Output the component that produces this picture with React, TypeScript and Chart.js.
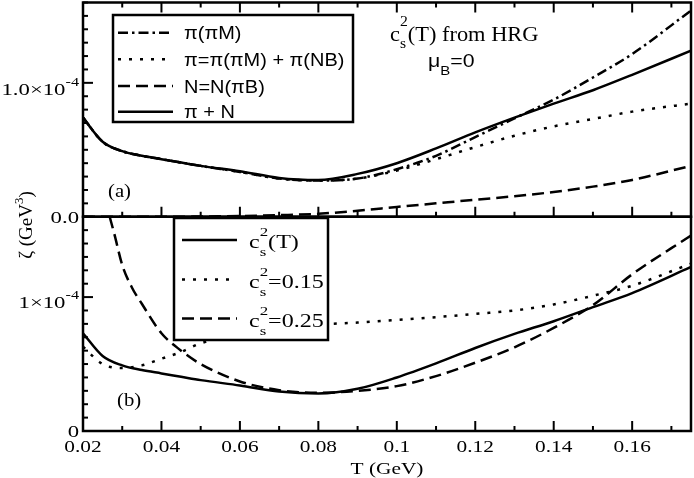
import { useEffect, useRef } from 'react'
import { Chart, registerables } from 'chart.js'

Chart.register(...registerables)

// T grid in GeV
const temps = [0.02, 0.025, 0.03, 0.035, 0.04, 0.045, 0.05, 0.06, 0.07, 0.08, 0.09, 0.1, 0.11, 0.12, 0.13, 0.14, 0.15, 0.16, 0.175]

// panel (a), zeta in units of 1e-4 GeV^3
const zetaPiPiM = [0.74, 0.56, 0.49, 0.455, 0.43, 0.405, 0.38, 0.335, 0.285, 0.27, 0.285, 0.355, 0.455, 0.595, 0.735, 0.875, 1.04, 1.215, 1.54]
const zetaPi = [0.74, 0.56, 0.49, 0.455, 0.43, 0.405, 0.38, 0.335, 0.285, 0.27, 0.285, 0.345, 0.43, 0.52, 0.605, 0.675, 0.73, 0.785, 0.845]
const zetaN = [0, 0, 0, 0, 0, 0, 0.002, 0.005, 0.012, 0.022, 0.045, 0.073, 0.1, 0.127, 0.153, 0.185, 0.225, 0.275, 0.38]
const zetaPiN = [0.74, 0.56, 0.49, 0.455, 0.43, 0.405, 0.38, 0.34, 0.29, 0.275, 0.32, 0.4, 0.51, 0.63, 0.74, 0.845, 0.945, 1.06, 1.24]

// panel (b)
const zetaCsT = [0.73, 0.56, 0.49, 0.455, 0.43, 0.405, 0.38, 0.34, 0.295, 0.28, 0.315, 0.4, 0.505, 0.62, 0.725, 0.82, 0.925, 1.03, 1.225]
const zetaCs015 = [0.63, 0.5, 0.47, 0.49, 0.54, 0.59, 0.655, 0.72, 0.765, 0.795, 0.81, 0.83, 0.85, 0.875, 0.9, 0.945, 1.01, 1.085, 1.25]
const tempsCs025 = [0.0268, 0.028, 0.03, 0.0325, 0.035, 0.04, 0.045, 0.05, 0.06, 0.07, 0.08, 0.09, 0.1, 0.11, 0.12, 0.13, 0.14, 0.15, 0.16, 0.175]
const zetaCs025 = [1.6, 1.47, 1.24, 1.07, 0.95, 0.73, 0.6, 0.5, 0.37, 0.305, 0.285, 0.3, 0.335, 0.41, 0.51, 0.625, 0.77, 0.94, 1.17, 1.46]

const legendA = ['π(πM)', 'π=π(πM) + π(NB)', 'N=N(πB)', 'π + N']
const legendB = ['(T)', '=0.15', '=0.25']

const SERIF = "'Liberation Serif', 'Times New Roman', 'DejaVu Serif', serif"
const SANS = "'Liberation Sans', Arial, sans-serif"
const DASHDOT = [10, 4, 2.5, 4]
const DOT = [3, 8]
const DASH = [12, 6]
const SOLID: number[] = []

type Run = { t: string; size: number; dy?: number; stack?: boolean }

function drawRuns(ctx: CanvasRenderingContext2D, x: number, y: number, runs: Run[], family: string, sx: number, align: 'left' | 'center' | 'right' = 'left') {
  ctx.save()
  const placed: (Run & { x: number })[] = []
  let cx = 0, prevStart = 0, prevEnd = 0
  for (const r of runs) {
    ctx.font = `${r.size}px ${family}`
    const w = ctx.measureText(r.t).width
    const start = r.stack ? prevStart : cx
    placed.push({ ...r, x: start })
    cx = r.stack ? Math.max(prevEnd, start + w) : start + w
    prevStart = start
    prevEnd = cx
  }
  const off = align === 'right' ? -cx : align === 'center' ? -cx / 2 : 0
  ctx.translate(x, y)
  ctx.scale(sx, 1)
  ctx.fillStyle = '#000'
  ctx.textAlign = 'left'
  ctx.textBaseline = 'alphabetic'
  for (const p of placed) {
    ctx.font = `${p.size}px ${family}`
    ctx.fillText(p.t, off + p.x, p.dy ?? 0)
  }
  ctx.restore()
}

function line(xs: number[], ys: number[], yAxisID: string, dash: number[]) {
  return {
    data: xs.map((x, i) => ({ x, y: ys[i] })),
    yAxisID,
    borderColor: '#000',
    borderWidth: 2.5,
    borderDash: dash,
    borderCapStyle: 'butt' as const,
    pointRadius: 0,
    cubicInterpolationMode: 'monotone' as const,
    fill: false,
  }
}

const decor = {
  id: 'decor',
  afterDatasetsDraw(chart: any) {
    const ctx: CanvasRenderingContext2D = chart.ctx
    const xs = chart.scales.x
    const yt = chart.scales.yTop
    const yb = chart.scales.yBot
    const L = chart.chartArea.left
    const R = chart.chartArea.right
    ctx.save()
    ctx.strokeStyle = '#000'
    ctx.setLineDash([])

    // frames
    ctx.lineWidth = 2.5
    ctx.strokeRect(L, yt.top, R - L, yt.bottom - yt.top)
    ctx.strokeRect(L, yb.top, R - L, yb.bottom - yb.top)

    // inward ticks
    ctx.lineWidth = 2
    const seg = (x1: number, y1: number, x2: number, y2: number) => {
      ctx.beginPath(); ctx.moveTo(x1, y1); ctx.lineTo(x2, y2); ctx.stroke()
    }
    for (const t of xs.ticks) {
      const px = xs.getPixelForValue(t.value)
      const len = Math.round(t.value * 100) % 2 === 0 ? 10 : 5
      seg(px, yb.bottom, px, yb.bottom - len)
      seg(px, yt.bottom, px, yt.bottom - len)
      seg(px, yt.top, px, yt.top + len)
    }
    for (const sc of [yt, yb]) {
      for (const t of sc.ticks) {
        const py = sc.getPixelForValue(t.value)
        const major = t.value === 0 || Math.abs(t.value - 1) < 1e-6
        seg(L, py, L + (major ? 10 : 5), py)
      }
    }

    // y tick labels
    drawRuns(ctx, 79, yt.getPixelForValue(0) + 6.5, [{ t: '0.0', size: 17.5 }], SERIF, 1.3, 'right')
    drawRuns(ctx, 79, yt.getPixelForValue(1) + 12.5, [{ t: '1.0×10', size: 17.5 }, { t: '-4', size: 12.5, dy: -9.5 }], SERIF, 1.3, 'right')
    drawRuns(ctx, 79, yb.getPixelForValue(0) + 6, [{ t: '0', size: 17.5 }], SERIF, 1.3, 'right')
    drawRuns(ctx, 79, yb.getPixelForValue(1) + 11, [{ t: '1×10', size: 17.5 }, { t: '-4', size: 12.5, dy: -9.5 }], SERIF, 1.3, 'right')

    // x tick labels and title
    for (const t of xs.ticks) {
      if (Math.round(t.value * 100) % 2 !== 0) continue
      const label = String(Math.round(t.value * 100) / 100)
      drawRuns(ctx, xs.getPixelForValue(t.value), yb.bottom + 20.5, [{ t: label, size: 17.5 }], SERIF, 1.22, 'center')
    }
    drawRuns(ctx, (L + R) / 2, yb.bottom + 43, [{ t: 'T (GeV)', size: 17.5 }], SERIF, 1.22, 'center')

    // y title
    ctx.save()
    ctx.translate(32, 225)
    ctx.rotate(-Math.PI / 2)
    drawRuns(ctx, 0, 0, [{ t: 'ζ (GeV', size: 19 }, { t: '3', size: 13, dy: -9 }, { t: ')', size: 19 }], SERIF, 1, 'center')
    ctx.restore()

    // legend (a)
    const dsets = chart.data.datasets
    ctx.fillStyle = '#fff'
    ctx.lineWidth = 2.5
    ctx.fillRect(113, 15, 240, 107)
    ctx.strokeRect(113, 15, 240, 107)
    const rowsA = [32.7, 59.3, 86, 111.7]
    legendA.forEach((txt, i) => {
      const ds = dsets[i]
      ctx.lineWidth = ds.borderWidth
      ctx.setLineDash(ds.borderDash)
      seg(118, rowsA[i], 173, rowsA[i])
      ctx.setLineDash([])
      drawRuns(ctx, 184, rowsA[i] + 6.5, [{ t: txt, size: 17.5 }], SANS, 1.14)
    })

    // legend (b)
    ctx.fillStyle = '#fff'
    ctx.lineWidth = 2.5
    ctx.fillRect(174, 218, 154, 122)
    ctx.strokeRect(174, 218, 154, 122)
    const rowsB = [240, 279.5, 318.5]
    legendB.forEach((txt, i) => {
      const ds = dsets[4 + i]
      ctx.lineWidth = ds.borderWidth
      ctx.setLineDash(ds.borderDash)
      seg(182, rowsB[i], 237, rowsB[i])
      ctx.setLineDash([])
      drawRuns(ctx, 249, rowsB[i] + 8, [
        { t: 'c', size: 18.5 },
        { t: 's', size: 13, dy: 8 },
        { t: '2', size: 13, dy: -12, stack: true },
        { t: txt, size: 18.5 },
      ], SERIF, 1.3)
    })

    // annotations
    drawRuns(ctx, 390, 40.7, [
      { t: 'c', size: 20 },
      { t: 's', size: 14, dy: 7.5 },
      { t: '2', size: 14, dy: -15, stack: true },
      { t: '(T) from HRG', size: 20 },
    ], SERIF, 1.12)
    drawRuns(ctx, 428, 67, [{ t: 'μ', size: 18.5 }, { t: 'B', size: 13, dy: 8 }, { t: '=0', size: 18.5 }], SANS, 1.15)
    drawRuns(ctx, 108, 196.7, [{ t: '(a)', size: 18 }], SERIF, 1.15)
    drawRuns(ctx, 117, 405.7, [{ t: '(b)', size: 18 }], SERIF, 1.15)

    ctx.restore()
  },
}

export default function App() {
  const canvasRef = useRef<HTMLCanvasElement>(null)

  useEffect(() => {
    if (!canvasRef.current) return
    const hidden = { display: false, drawTicks: false }
    const chart = new Chart(canvasRef.current, {
      type: 'line',
      data: {
        datasets: [
          line(temps, zetaPiPiM, 'yTop', DASHDOT),
          line(temps, zetaPi, 'yTop', DOT),
          line(temps, zetaN, 'yTop', DASH),
          line(temps, zetaPiN, 'yTop', SOLID),
          line(temps, zetaCsT, 'yBot', SOLID),
          line(temps, zetaCs015, 'yBot', DOT),
          line(tempsCs025, zetaCs025, 'yBot', DASH),
        ],
      },
      options: {
        responsive: true,
        maintainAspectRatio: false,
        animation: false,
        events: [],
        layout: { padding: { top: 2.5, right: 3, bottom: 0, left: 0 } },
        scales: {
          x: {
            type: 'linear',
            position: 'bottom',
            min: 0.02,
            max: 0.175,
            grid: hidden,
            border: { display: false },
            ticks: { display: false, stepSize: 0.01, includeBounds: false, autoSkip: false },
            afterFit: (s: any) => { s.height = 47 },
          },
          yBot: {
            type: 'linear',
            position: 'left',
            stack: 'panels',
            stackWeight: 1,
            weight: 1,
            min: 0,
            max: 1.6,
            grid: hidden,
            border: { display: false },
            ticks: { display: false, stepSize: 0.1, autoSkip: false },
            afterFit: (s: any) => { s.width = 83 },
          },
          yTop: {
            type: 'linear',
            position: 'left',
            stack: 'panels',
            stackWeight: 1,
            weight: 2,
            min: 0,
            max: 1.6,
            grid: hidden,
            border: { display: false },
            ticks: { display: false, stepSize: 0.1, autoSkip: false },
            afterFit: (s: any) => { s.width = 83 },
          },
        },
        plugins: {
          legend: { display: false },
          tooltip: { enabled: false },
        },
      },
      plugins: [decor],
    } as any)
    return () => { chart.destroy() }
  }, [])

  return (
    <div style={{ position: 'absolute', left: 0, top: 0, width: 694, height: 478, background: '#fff' }}>
      <canvas ref={canvasRef} />
    </div>
  )
}
